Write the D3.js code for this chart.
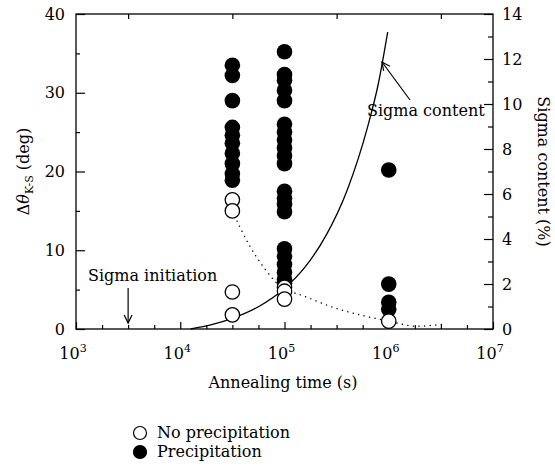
<!DOCTYPE html>
<html><head><meta charset="utf-8">
<script src="https://cdn.jsdelivr.net/npm/d3@7"></script>
<style>
body{margin:0;background:#fff;}
text{font-family:"DejaVu Serif",serif;fill:#000;}
</style></head>
<body><svg id="c" width="555" height="473"></svg>
<script>
// ---- data ----
const timeA = Math.pow(10, 4.5), timeB = 1e5, timeC = 1e6;
const precipTimes = [
  timeA,timeA,timeA,timeA,timeA,timeA,timeA,timeA,timeA,timeA,
  timeB,timeB,timeB,timeB,timeB,timeB,timeB,timeB,timeB,timeB,timeB,timeB,timeB,timeB,timeB,timeB,timeB,timeB,timeB,timeB,timeB,
  timeC,timeC,timeC,timeC];
const precipAngles = [
  33.5,32.2,29.0,25.6,24.6,23.6,22.3,21.0,19.7,18.9,
  35.2,32.3,31.6,30.3,29.0,26.0,25.0,24.0,23.0,22.0,21.0,17.5,16.6,15.8,14.9,10.2,9.2,8.2,7.2,6.3,5.8,
  20.2,5.7,3.4,2.5];
const noPrecipTimes = [timeA,timeA,timeA,timeA, timeB,timeB,timeB, timeC];
const noPrecipAngles = [16.4,15.0,4.7,1.8, 5.3,4.8,3.8, 1.0];
// sigma content (%) curve, right axis
const sigmaTimes = [12600, 20000, 31600, 56200, 100000, 158500, 251200, 398100, 631000, 794300, 977000];
const sigmaContent = [0, 0.19, 0.47, 0.99, 1.8, 2.77, 4.17, 6.16, 9.03, 10.9, 13.2];
// dotted trend (deg), left axis
const trendTimes = [31600, 45700, 66100, 100000, 131000, 316000, 661000, 1000000, 1862000, 3236000];
const trendAngles = [15.0, 10.7, 7.5, 5.0, 4.5, 2.6, 1.5, 1.0, 0.35, 0.6];
const xMajor = [1e3, 1e4, 1e5, 1e6, 1e7];
const xExp = ["3","4","5","6","7"];
const yLeftTicks = [0,10,20,30,40];
const yRightTicks = [0,2,4,6,8,10,12,14];
const legendLabels = ["No precipitation", "Precipitation"];

// ---- layout ----
const svg = d3.select("#c");
const L = 76, R = 493, T = 14, B = 329;
const x = d3.scaleLog().domain([1e3, 1e7]).range([L, R]);
const yL = d3.scaleLinear().domain([0, 40]).range([B, T]);
const yR = d3.scaleLinear().domain([0, 14]).range([B, T]);
const FS = 16;

// minor tick values
const xMinorBottom = [], xMinorTop = [];
for (let e = 3; e < 7; e++) {
  [0.25, 0.5, 0.75].forEach(f => xMinorBottom.push(Math.pow(10, e + f)));
  xMinorTop.push(Math.pow(10, e + 0.5));
}

function styleAxis(g) {
  g.select(".domain").remove();
  g.selectAll("line").attr("stroke", "#000").attr("stroke-width", 1.2);
  g.selectAll("text").attr("font-size", FS).attr("font-family", "DejaVu Serif");
}

// bottom axis ticks
svg.append("g").attr("transform", `translate(0,${B})`)
  .call(d3.axisBottom(x).tickValues(xMajor).tickSize(-7).tickFormat("")).call(styleAxis);
svg.append("g").attr("transform", `translate(0,${B})`)
  .call(d3.axisBottom(x).tickValues(xMinorBottom).tickSize(-4).tickFormat("")).call(styleAxis);
// top axis ticks
svg.append("g").attr("transform", `translate(0,${T})`)
  .call(d3.axisTop(x).tickValues(xMinorTop).tickSize(-5).tickFormat("")).call(styleAxis);
// left axis
svg.append("g").attr("transform", `translate(${L},0)`)
  .call(d3.axisLeft(yL).tickValues(yLeftTicks).tickSize(-9).tickPadding(11)).call(styleAxis);
svg.append("g").attr("transform", `translate(${L},0)`)
  .call(d3.axisLeft(yL).tickValues([5,15,25,35]).tickSize(-4).tickFormat("")).call(styleAxis);
// right axis
svg.append("g").attr("transform", `translate(${R},0)`)
  .call(d3.axisRight(yR).tickValues(yRightTicks).tickSize(-9).tickPadding(9)).call(styleAxis);
svg.append("g").attr("transform", `translate(${R},0)`)
  .call(d3.axisRight(yR).tickValues([1,3,5,7,9,11,13]).tickSize(-5).tickFormat("")).call(styleAxis);

// x tick labels with superscripts
xMajor.forEach((v, i) => {
  const t = svg.append("text").attr("x", x(v) - 3).attr("y", 359)
    .attr("text-anchor", "middle").attr("font-size", FS);
  t.append("tspan").text("10");
  t.append("tspan").attr("dy", -7).attr("font-size", 11).text(xExp[i]);
});

// frame
svg.append("rect").attr("x", L).attr("y", T).attr("width", R - L).attr("height", B - T)
  .attr("fill", "none").attr("stroke", "#000").attr("stroke-width", 1.3);

// dotted trend line
const lineL = d3.line().x((d, i) => x(trendTimes[i])).y(d => yL(d)).curve(d3.curveMonotoneX);
svg.append("path").attr("d", lineL(trendAngles)).attr("fill", "none")
  .attr("stroke", "#000").attr("stroke-width", 1.4).attr("stroke-dasharray", "0.1,5.5")
  .attr("stroke-linecap", "round");

// sigma content curve
const lineR = d3.line().x((d, i) => x(sigmaTimes[i])).y(d => yR(d)).curve(d3.curveMonotoneX);
svg.append("path").attr("d", lineR(sigmaContent)).attr("fill", "none")
  .attr("stroke", "#000").attr("stroke-width", 1.3);

// points
const RAD = 7.8;
svg.append("g").selectAll("circle").data(precipAngles).join("circle")
  .attr("cx", (d, i) => x(precipTimes[i])).attr("cy", d => yL(d)).attr("r", RAD)
  .attr("fill", "#000");
svg.append("g").selectAll("circle").data(noPrecipAngles).join("circle")
  .attr("cx", (d, i) => x(noPrecipTimes[i])).attr("cy", d => yL(d)).attr("r", RAD - 0.6)
  .attr("fill", "#fff").attr("stroke", "#000").attr("stroke-width", 1.3);

// annotations
function arrow(x1, y1, x2, y2) {
  svg.append("line").attr("x1", x1).attr("y1", y1).attr("x2", x2).attr("y2", y2)
    .attr("stroke", "#000").attr("stroke-width", 1.2);
  const a = Math.atan2(y2 - y1, x2 - x1), h = 9, w = 0.45;
  const p1 = [x2 - h * Math.cos(a - w), y2 - h * Math.sin(a - w)];
  const p2 = [x2 - h * Math.cos(a + w), y2 - h * Math.sin(a + w)];
  svg.append("path").attr("d", `M${p1}L${x2},${y2}L${p2}`).attr("fill", "none")
    .attr("stroke", "#000").attr("stroke-width", 1.2);
}
svg.append("text").attr("x", 88).attr("y", 281).attr("font-size", FS).text("Sigma initiation");
arrow(x(Math.pow(10, 3.5)), 288, x(Math.pow(10, 3.5)), 323);
svg.append("text").attr("x", 367).attr("y", 116).attr("font-size", FS).text("Sigma content");
arrow(410, 100, 382, 62);

// axis titles
svg.append("text").attr("x", 283).attr("y", 388).attr("text-anchor", "middle")
  .attr("font-size", FS).text("Annealing time (s)");
const yt = svg.append("text").attr("transform", `translate(29,${(T + B) / 2}) rotate(-90)`)
  .attr("text-anchor", "middle").attr("font-size", FS);
yt.append("tspan").text("Δ");
yt.append("tspan").attr("font-style", "italic").text("θ");
yt.append("tspan").attr("dy", 4).attr("font-size", 11).text("K-S");
yt.append("tspan").attr("dy", -4).text(" (deg)");
svg.append("text").attr("transform", `translate(538,${(T + B) / 2}) rotate(90)`)
  .attr("text-anchor", "middle").attr("font-size", FS).text("Sigma content (%)");

// legend
legendLabels.forEach((lab, i) => {
  const cy = 433 + i * 19;
  svg.append("circle").attr("cx", 140).attr("cy", cy).attr("r", 6.5)
    .attr("fill", i === 0 ? "#fff" : "#000").attr("stroke", "#000").attr("stroke-width", 1.2);
  svg.append("text").attr("x", 157).attr("y", cy + 5).attr("font-size", FS).text(lab);
});
</script></body></html>
